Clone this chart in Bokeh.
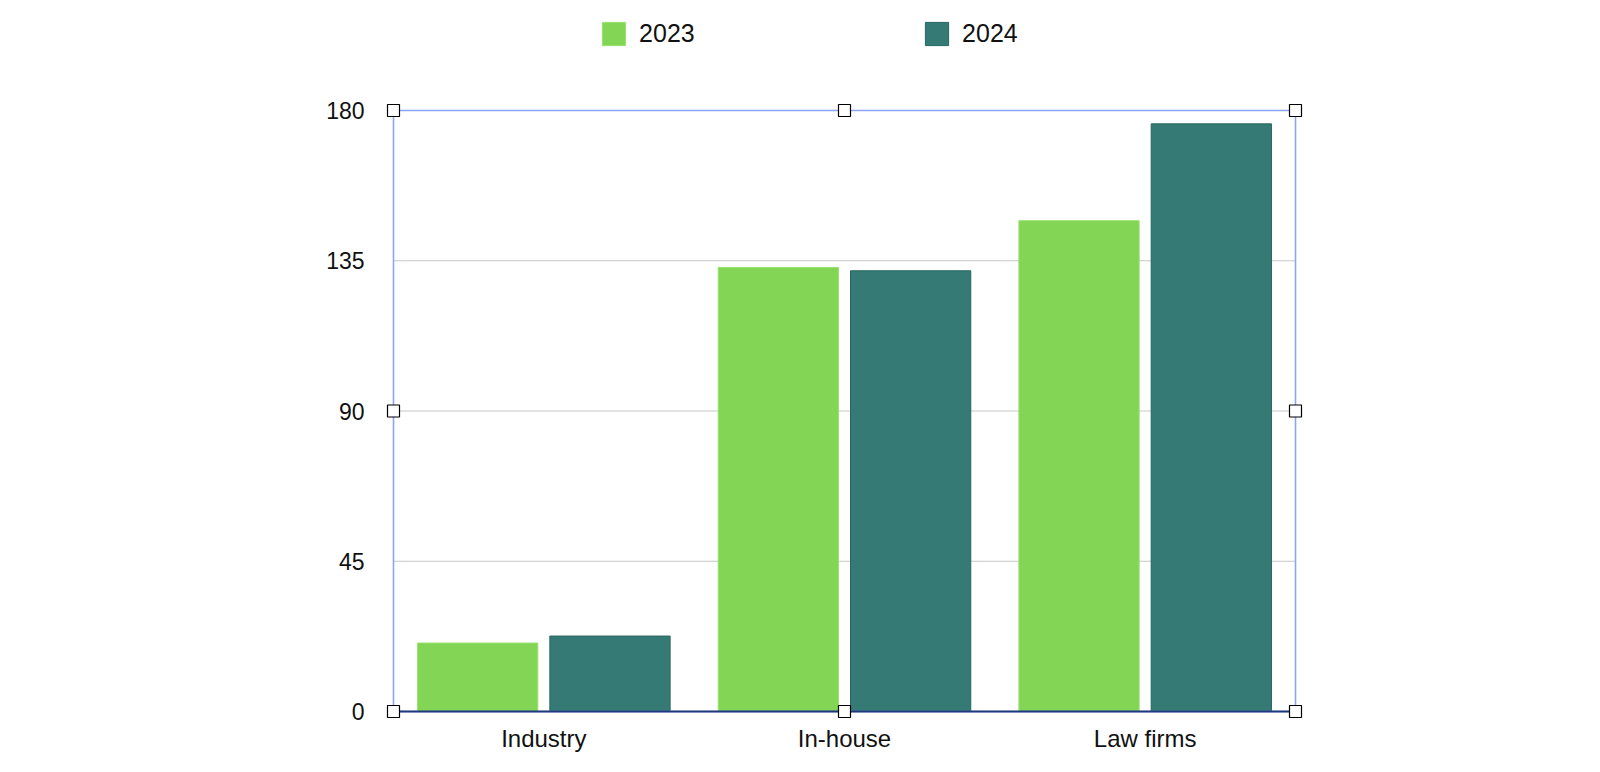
from bokeh.plotting import figure
from bokeh.models import (FactorRange, Range1d, ColumnDataSource, Legend, LegendItem,
                          BoxAnnotation, FixedTicker)
from bokeh.transform import dodge
from bokeh.embed import file_html
from bokeh.resources import INLINE

# ---- data ----
categories = ["Industry", "In-house", "Law firms"]
series_names = ["2023", "2024"]
values_2023 = [20.5, 133, 147]
values_2024 = [22.6, 132, 176]
y_ticks = [0, 45, 90, 135, 180]

col_2023 = "#82d555"
col_2024 = "#357a75"
FONT = "Liberation Sans"

source = ColumnDataSource(dict(cat=categories, v2023=values_2023, v2024=values_2024))

# ---- layout (pixels) ----
FIG_W, FIG_H = 1584, 754
DATA_L, DATA_T, DATA_W, DATA_H = 393, 110, 902, 601
PAD = 7                 # frame extends beyond the data box so edge handles are not clipped
FRAME_T = 8
Y_MAX = 180
NX = len(categories)

frame_l = DATA_L - PAD
frame_r = DATA_L + DATA_W + PAD
frame_b = DATA_T + DATA_H + PAD
y_per_px = Y_MAX / DATA_H
y_lo = -PAD * y_per_px
y_hi = Y_MAX + (DATA_T - FRAME_T) * y_per_px

p = figure(x_range=FactorRange(*categories, range_padding=PAD * NX / DATA_W,
                               range_padding_units="absolute"),
           y_range=Range1d(y_lo, y_hi),
           width=FIG_W, height=FIG_H, output_backend="svg", toolbar_location=None,
           min_border_left=frame_l, min_border_right=FIG_W - frame_r,
           min_border_top=FRAME_T, min_border_bottom=FIG_H - frame_b)
p.outline_line_color = None
p.background_fill_color = "white"
p.border_fill_color = "white"

# horizontal grid lines limited to the data box
inner_ticks = y_ticks[1:-1]
grid_src = ColumnDataSource(dict(x0=[0] * len(inner_ticks), x1=[NX] * len(inner_ticks),
                                 y=inner_ticks))
p.segment(x0="x0", y0="y", x1="x1", y1="y", source=grid_src, line_color="#c6c6c6",
          line_width=1, level="underlay")

r1 = p.vbar(x=dodge("cat", -0.22, range=p.x_range), top="v2023", width=0.4, source=source,
            fill_color=col_2023, line_color="#97e26c", line_width=1)
r2 = p.vbar(x=dodge("cat", 0.22, range=p.x_range), top="v2024", width=0.4, source=source,
            fill_color=col_2024, line_color="#276760", line_width=1)

# axes
p.yaxis.ticker = FixedTicker(ticks=y_ticks)
p.yaxis.axis_line_color = None
p.yaxis.major_tick_line_color = None
p.yaxis.minor_tick_line_color = None
p.yaxis.major_label_standoff = 16
p.yaxis.major_label_text_font = FONT
p.yaxis.major_label_text_font_size = "23px"
p.yaxis.major_label_text_color = "#111111"

p.xaxis.axis_line_color = None
p.xaxis.major_tick_line_color = None
p.xaxis.minor_tick_line_color = None
p.xaxis.major_label_standoff = 0
p.xaxis.major_label_text_font = FONT
p.xaxis.major_label_text_font_size = "24px"
p.xaxis.major_label_text_color = "#111111"

p.xgrid.grid_line_color = None
p.ygrid.grid_line_color = None

# selection frame around the data box
p.add_layout(BoxAnnotation(left=0, right=NX, bottom=0, top=Y_MAX, fill_alpha=0,
                           line_color="#8ca5f4", line_alpha=1, line_width=1.6,
                           level="annotation"))

# baseline at zero (drawn above the frame)
p.segment(x0=[0], y0=[0], x1=[NX], y1=[0], line_color="#1f3a78", line_width=2.2,
          level="overlay")

# handles at corners and mid-edges of the frame
hx = [0, NX / 2, NX, 0, NX, 0, NX / 2, NX]
hy = [0, 0, 0, Y_MAX / 2, Y_MAX / 2, Y_MAX, Y_MAX, Y_MAX]
p.scatter(x=hx, y=hy, marker="square", size=12, fill_color="white", line_color="black",
          line_width=1.2, level="overlay")

# legend (box glyph swatch is drawn at 80% of the glyph box)
GW = 29
inset = GW * 0.1
leg_x = 602 - inset - frame_l
leg_y = frame_b - (45 + inset)
legend = Legend(items=[LegendItem(label=series_names[0], renderers=[r1]),
                       LegendItem(label=series_names[1], renderers=[r2])],
                orientation="horizontal", location=(leg_x, leg_y),
                glyph_width=GW, glyph_height=GW, label_standoff=11, label_width=283,
                spacing=0, padding=0, margin=0, border_line_color=None,
                background_fill_alpha=0, label_text_font=FONT,
                label_text_font_size="25px", label_text_color="#111111",
                label_height=GW)
p.add_layout(legend)

open("out.html", "w").write(file_html(p, INLINE))
